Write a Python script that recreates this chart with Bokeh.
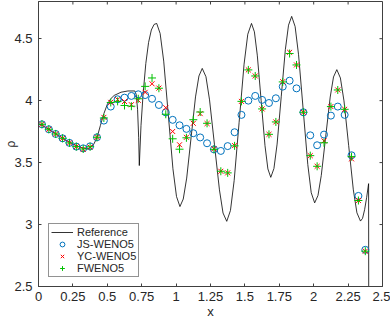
import math
from bokeh.plotting import figure
from bokeh.models import Legend, LegendItem, FixedTicker, Range1d
from bokeh.embed import file_html
from bokeh.resources import INLINE

# ---------------- data ----------------
ref_x = [0.0, 0.05, 0.1, 0.15, 0.2, 0.25, 0.3, 0.35, 0.375, 0.4, 0.425, 0.45, 0.475,
         0.5, 0.525, 0.55, 0.6, 0.65, 0.70, 0.71, 0.72, 0.728, 0.7326, 0.745, 0.76,
         0.78, 0.80, 0.82, 0.84, 0.859, 0.884, 0.910, 0.9435, 0.977, 1.003, 1.028,
         1.052, 1.077, 1.109, 1.141, 1.166, 1.190, 1.217, 1.243, 1.279, 1.315, 1.341,
         1.368, 1.395, 1.422, 1.458, 1.494, 1.521, 1.548, 1.569, 1.590, 1.618, 1.646,
         1.667, 1.688, 1.711, 1.734, 1.764, 1.794, 1.817, 1.840, 1.865, 1.890, 1.9235,
         1.957, 1.982, 2.007, 2.031, 2.055, 2.0875, 2.120, 2.144, 2.168, 2.194, 2.220,
         2.254, 2.288, 2.314, 2.340, 2.355, 2.37, 2.385, 2.399, 2.400]
ref_rho = [3.815, 3.785, 3.75, 3.715, 3.68, 3.65, 3.625, 3.612, 3.618, 3.645, 3.70, 3.80, 3.895,
           3.97, 4.015, 4.042, 4.068, 4.078, 4.078, 4.05, 3.93, 3.70, 3.476, 3.80, 4.05,
           4.30, 4.47, 4.57, 4.615, 4.623, 4.542, 4.319, 3.884, 3.450, 3.226, 3.145,
           3.206, 3.375, 3.703, 4.030, 4.199, 4.26, 4.193, 4.006, 3.643, 3.280, 3.093,
           3.026, 3.113, 3.355, 3.825, 4.294, 4.536, 4.623, 4.555, 4.367, 4.002, 3.637,
           3.449, 3.381, 3.452, 3.649, 4.031, 4.412, 4.609, 4.68, 4.598, 4.370, 3.928,
           3.485, 3.257, 3.175, 3.234, 3.396, 3.713, 4.029, 4.191, 4.25, 4.183, 3.998,
           3.639, 3.280, 3.095, 3.028, 3.05, 3.12, 3.22, 3.33, 2.30]

x_pts = [0.025, 0.075, 0.125, 0.175, 0.225, 0.275, 0.325, 0.375, 0.425, 0.475, 0.525, 0.575,
         0.625, 0.675, 0.725, 0.775, 0.825, 0.875, 0.925, 0.975, 1.025, 1.075, 1.125, 1.175,
         1.225, 1.275, 1.325, 1.375, 1.425, 1.475, 1.525, 1.575, 1.625, 1.675, 1.725, 1.775,
         1.825, 1.875, 1.925, 1.975, 2.025, 2.075, 2.125, 2.175, 2.225, 2.275, 2.325, 2.375]

js_weno5 = [3.809, 3.769, 3.731, 3.696, 3.659, 3.629, 3.615, 3.631, 3.704, 3.839, 3.952, 4.011,
            4.024, 4.038, 4.051, 4.045, 4.015, 3.965, 3.905, 3.845, 3.801, 3.772, 3.737, 3.703,
            3.656, 3.607, 3.594, 3.633, 3.745, 3.885, 4.000, 4.038, 4.006, 3.981, 4.019, 4.113,
            4.161, 4.099, 3.906, 3.720, 3.640, 3.726, 3.879, 3.952, 3.885, 3.559, 3.231, 2.796]

yc_weno5 = [3.809, 3.769, 3.731, 3.696, 3.659, 3.629, 3.607, 3.625, 3.704, 3.865, 3.986, 4.008,
            3.993, 3.967, 4.003, 4.067, 4.136, 4.101, 3.943, 3.751, 3.644, 3.704, 3.817, 3.895,
            3.815, 3.611, 3.430, 3.417, 3.637, 3.994, 4.248, 4.199, 3.933, 3.728, 3.828, 4.153,
            4.390, 4.288, 3.906, 3.556, 3.470, 3.675, 3.952, 4.086, 3.930, 3.530, 3.194, 2.785]

f_weno5 = [3.809, 3.769, 3.731, 3.696, 3.659, 3.629, 3.610, 3.628, 3.704, 3.860, 3.985, 3.994,
           3.961, 3.955, 4.015, 4.115, 4.183, 4.100, 3.890, 3.692, 3.608, 3.700, 3.846, 3.908,
           3.817, 3.607, 3.430, 3.417, 3.635, 3.994, 4.248, 4.199, 3.933, 3.728, 3.828, 4.151,
           4.380, 4.288, 3.906, 3.556, 3.470, 3.660, 3.952, 4.086, 3.930, 3.548, 3.194, 2.785]

x_ticks = [0, 0.25, 0.5, 0.75, 1, 1.25, 1.5, 1.75, 2, 2.25, 2.5]
x_tick_labels = ["0", "0.25", "0.5", "0.75", "1", "1.25", "1.5", "1.75", "2", "2.25", "2.5"]
y_ticks = [2.5, 3, 3.5, 4, 4.5]
y_tick_labels = ["2.5", "3", "3.5", "4", "4.5"]
x_min, x_max = 0.0, 2.5
y_min, y_max = 2.5, 4.8

FONT = "Liberation Sans"
TXT = "#262626"
AX = "#404040"

p = figure(width=390, height=321, x_range=Range1d(x_min, x_max), y_range=Range1d(y_min, y_max),
           output_backend="svg", toolbar_location=None,
           min_border_left=38, min_border_right=8, min_border_top=1, min_border_bottom=35)
p.xgrid.visible = False
p.ygrid.visible = False
p.outline_line_color = AX
p.outline_line_width = 1
p.background_fill_color = "white"
p.border_fill_color = "white"

for ax, ticks, labels in ((p.xaxis[0], x_ticks, x_tick_labels), (p.yaxis[0], y_ticks, y_tick_labels)):
    ax.ticker = FixedTicker(ticks=ticks)
    ax.major_label_overrides = {float(t): l for t, l in zip(ticks, labels)}
    ax.major_tick_in = 3
    ax.major_tick_out = 0
    ax.minor_tick_in = 0
    ax.minor_tick_out = 0
    ax.major_tick_line_color = AX
    ax.axis_line_color = AX
    ax.major_label_text_font = FONT
    ax.major_label_text_font_size = "13px"
    ax.major_label_text_color = TXT
    ax.axis_label_text_font = FONT
    ax.axis_label_text_font_style = "normal"
    ax.axis_label_text_color = TXT

p.xaxis[0].major_label_standoff = 5
p.yaxis[0].major_label_standoff = 6
p.xaxis[0].axis_label = "x"
p.yaxis[0].axis_label = "ρ"
p.xaxis[0].axis_label_text_font_size = "13px"
p.yaxis[0].axis_label_text_font_size = "12px"
p.xaxis[0].axis_label_standoff = 0
p.yaxis[0].axis_label_standoff = -7

# inward ticks on the top and right edges of the box (half clipped by the frame)
p.scatter(x_ticks, [y_max] * len(x_ticks), marker="dash", angle=math.pi / 2, size=6,
          line_color=AX, line_width=1)
p.scatter([x_max] * len(y_ticks), y_ticks, marker="dash", size=6, line_color=AX, line_width=1)

r_ref = p.line(ref_x, ref_rho, line_color="black", line_width=0.8)
r_js = p.scatter(x_pts, js_weno5, marker="circle", size=7, fill_color=None,
                 line_color="#0072BD", line_width=1)
r_yc = p.scatter(x_pts, yc_weno5, marker="x", size=7, line_color="#FF0000", line_width=1)
r_f = p.scatter(x_pts, f_weno5, marker="cross", size=8, line_color="#00C000", line_width=1)

legend = Legend(items=[LegendItem(label="Reference", renderers=[r_ref]),
                       LegendItem(label="JS-WENO5", renderers=[r_js]),
                       LegendItem(label="YC-WENO5", renderers=[r_yc]),
                       LegendItem(label="FWENO5", renderers=[r_f])],
                location=(10, 9))
legend.label_text_font = FONT
legend.label_text_font_size = "11px"
legend.label_text_color = TXT
legend.border_line_color = TXT
legend.border_line_width = 1
legend.background_fill_color = "white"
legend.background_fill_alpha = 1
legend.padding = 2
legend.spacing = 0
legend.margin = 0
legend.glyph_width = 22
legend.glyph_height = 12
legend.label_height = 12
legend.label_standoff = 4
p.add_layout(legend)

open("out.html", "w").write(file_html(p, INLINE))
